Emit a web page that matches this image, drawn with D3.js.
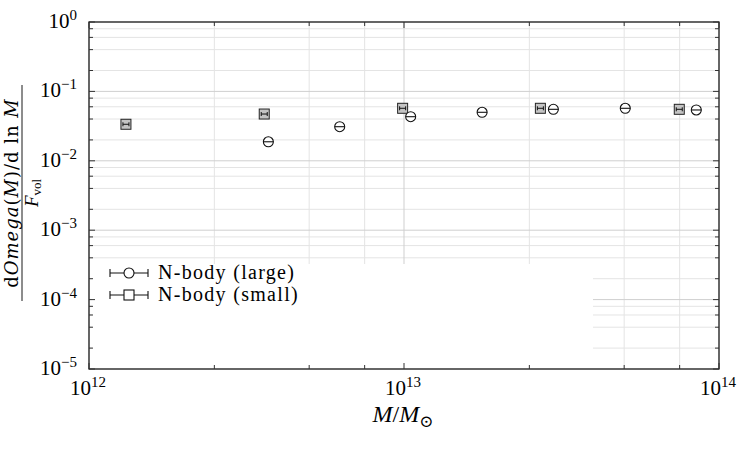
<!DOCTYPE html>
<html>
<head>
<meta charset="utf-8">
<script src="https://cdn.jsdelivr.net/npm/d3@7"></script>
<style>
  body { margin: 0; background: #fff; }
  svg text { font-family: "Liberation Serif", "DejaVu Serif", serif; fill: #000; }
</style>
</head>
<body>
<script>
/* DATA */
// N-body (large) : mass, value
var largeMass = [3.71e12, 6.25e12, 1.05e13, 1.77e13, 2.98e13, 5.04e13, 8.47e13];
var largeVal  = [0.0188, 0.031, 0.0432, 0.050, 0.0552, 0.0571, 0.054];
// N-body (small)
var smallMass = [1.31e12, 3.6e12, 9.9e12, 2.71e13, 7.48e13];
var smallVal  = [0.0336, 0.0472, 0.0571, 0.0571, 0.0552];

var seriesNames = ["N-body (large)", "N-body (small)"];

var xDecades = [12, 13, 14];
var yDecades = [0, -1, -2, -3, -4, -5];
var xMinorMult = [2.5, 5, 7.5];
var yMinorMult = [2, 4, 6, 8];

/* CONSTANTS */
var W = 750, H = 450;
var margin = {top: 22, right: 31, bottom: 81, left: 89};
var width = W - margin.left - margin.right,
    height = H - margin.top - margin.bottom;

var x = d3.scaleLog().domain([1e12, 1e14]).range([0, width]);
var y = d3.scaleLog().domain([1e-5, 1]).range([height, 0]);

var svg = d3.select("body").append("svg")
    .attr("width", W)
    .attr("height", H);

var g = svg.append("g")
    .attr("transform", "translate(" + margin.left + "," + margin.top + ")");

// minor tick values
var xMinor = [], yMinor = [];
xDecades.slice(0, -1).forEach(function(e) {
  xMinorMult.forEach(function(m) { xMinor.push(m * Math.pow(10, e)); });
});
yDecades.slice(1).forEach(function(e) {
  yMinorMult.forEach(function(m) { yMinor.push(m * Math.pow(10, e)); });
});
var xMajor = xDecades.map(function(e) { return Math.pow(10, e); });
var yMajor = yDecades.map(function(e) { return Math.pow(10, e); });

/* GRID */
g.selectAll(".hminor").data(yMinor).enter().append("line")
  .attr("x1", 0).attr("x2", width)
  .attr("y1", function(d) { return y(d); }).attr("y2", function(d) { return y(d); })
  .attr("stroke", "#e4e4e4").attr("stroke-width", 1);
g.selectAll(".vminor").data(xMinor).enter().append("line")
  .attr("y1", 0).attr("y2", height)
  .attr("x1", function(d) { return x(d); }).attr("x2", function(d) { return x(d); })
  .attr("stroke", "#e4e4e4").attr("stroke-width", 1);
g.selectAll(".hmajor").data(yMajor.slice(1, -1)).enter().append("line")
  .attr("x1", 0).attr("x2", width)
  .attr("y1", function(d) { return y(d); }).attr("y2", function(d) { return y(d); })
  .attr("stroke", "#cfcfcf").attr("stroke-width", 1);
g.selectAll(".vmajor").data(xMajor.slice(1, -1)).enter().append("line")
  .attr("y1", 0).attr("y2", height)
  .attr("x1", function(d) { return x(d); }).attr("x2", function(d) { return x(d); })
  .attr("stroke", "#cfcfcf").attr("stroke-width", 1);

/* DATA MARKS */
var large = largeMass.map(function(m, i) { return {m: m, v: largeVal[i]}; });
var small = smallMass.map(function(m, i) { return {m: m, v: smallVal[i]}; });

function drawSquare(sel, cx, cy) {
  sel.append("rect").attr("x", cx - 5).attr("y", cy - 5)
    .attr("width", 10).attr("height", 10)
    .attr("fill", "#c4c4c4").attr("stroke", "#222").attr("stroke-width", 1);
  sel.append("path")
    .attr("d", "M" + (cx - 3) + "," + (cy - 2) + "V" + (cy + 2) +
               "M" + (cx - 3) + "," + cy + "H" + (cx + 3) +
               "M" + (cx + 3) + "," + (cy - 2) + "V" + (cy + 2))
    .attr("stroke", "#111").attr("stroke-width", 1).attr("fill", "none");
}
function drawCircle(sel, cx, cy) {
  sel.append("circle").attr("cx", cx).attr("cy", cy).attr("r", 5)
    .attr("fill", "#fff").attr("stroke", "#111").attr("stroke-width", 1.1);
  sel.append("line").attr("x1", cx - 5).attr("x2", cx + 5)
    .attr("y1", cy).attr("y2", cy)
    .attr("stroke", "#111").attr("stroke-width", 1.1);
}

var pts = g.append("g");
small.forEach(function(d) { drawSquare(pts, x(d.m), y(d.v)); });
large.forEach(function(d) { drawCircle(pts, x(d.m), y(d.v)); });

/* LEGEND (white box covers grid) */
g.append("rect")
  .attr("x", 3).attr("y", 242)
  .attr("width", 501).attr("height", height - 242)
  .attr("fill", "#fff");

var legRows = [273, 295];
seriesNames.forEach(function(name, i) {
  var ly = legRows[i] - margin.top;
  var lg = g.append("g");
  lg.append("path")
    .attr("d", "M21," + (ly - 4) + "V" + (ly + 4) + "M21," + ly + "H59M59," + (ly - 4) + "V" + (ly + 4))
    .attr("stroke", "#111").attr("stroke-width", 1.1).attr("fill", "none");
  if (i === 0) {
    lg.append("circle").attr("cx", 40).attr("cy", ly).attr("r", 5)
      .attr("fill", "#fff").attr("stroke", "#111").attr("stroke-width", 1.1);
  } else {
    lg.append("rect").attr("x", 35).attr("y", ly - 5).attr("width", 10).attr("height", 10)
      .attr("fill", "#fff").attr("stroke", "#111").attr("stroke-width", 1.1);
  }
  lg.append("text")
    .attr("x", 69).attr("y", ly + 6)
    .style("font-size", "20px")
    .style("letter-spacing", "1.3px")
    .text(name);
});

/* AXES FRAME AND TICKS */
g.append("rect").attr("x", 0).attr("y", 0).attr("width", width).attr("height", height)
  .attr("fill", "none").attr("stroke", "#000").attr("stroke-width", 1.2);

var ticks = g.append("g").attr("stroke", "#333").attr("stroke-width", 1);
xMinor.forEach(function(d) {
  ticks.append("line").attr("x1", x(d)).attr("x2", x(d)).attr("y1", height).attr("y2", height - 4);
  ticks.append("line").attr("x1", x(d)).attr("x2", x(d)).attr("y1", 0).attr("y2", 4);
});
xMajor.forEach(function(d) {
  ticks.append("line").attr("x1", x(d)).attr("x2", x(d)).attr("y1", height).attr("y2", height - 6);
  ticks.append("line").attr("x1", x(d)).attr("x2", x(d)).attr("y1", 0).attr("y2", 6);
});
yMinor.forEach(function(d) {
  ticks.append("line").attr("y1", y(d)).attr("y2", y(d)).attr("x1", 0).attr("x2", 4);
  ticks.append("line").attr("y1", y(d)).attr("y2", y(d)).attr("x1", width).attr("x2", width - 4);
});
yMajor.forEach(function(d) {
  ticks.append("line").attr("y1", y(d)).attr("y2", y(d)).attr("x1", 0).attr("x2", 6);
  ticks.append("line").attr("y1", y(d)).attr("y2", y(d)).attr("x1", width).attr("x2", width - 6);
});

/* TICK LABELS */
function powLabel(sel, e) {
  sel.append("tspan").text("10");
  sel.append("tspan").attr("dy", -8).style("font-size", "15px")
    .text(e < 0 ? "\u2212" + (-e) : String(e));
}
xDecades.forEach(function(e) {
  var t = g.append("text")
    .attr("x", x(Math.pow(10, e)) - 1).attr("y", height + 26)
    .attr("text-anchor", "middle")
    .style("font-size", "21px");
  powLabel(t, e);
});
yDecades.forEach(function(e) {
  var t = g.append("text")
    .attr("x", -12).attr("y", y(Math.pow(10, e)) + 6)
    .attr("text-anchor", "end")
    .style("font-size", "21px");
  powLabel(t, e);
});

/* AXIS LABELS */
var xl = g.append("text")
  .attr("x", width / 2 - 1).attr("y", height + 53)
  .attr("text-anchor", "middle")
  .style("font-size", "24px");
xl.append("tspan").style("font-style", "italic").text("M");
xl.append("tspan").text("/");
xl.append("tspan").style("font-style", "italic").text("M");
xl.append("tspan").attr("dy", 5).style("font-size", "17px").text("\u2299");

var yl = svg.append("g").attr("transform", "translate(0,193) rotate(-90)");
var num = yl.append("text").attr("x", 0).attr("y", 18)
  .attr("text-anchor", "middle")
  .style("font-family", "'DejaVu Serif', serif")
  .style("font-size", "18px")
  .style("letter-spacing", "1px");
num.append("tspan").text("d");
num.append("tspan").style("font-style", "italic").text("Omega");
num.append("tspan").text("(");
num.append("tspan").style("font-style", "italic").text("M");
num.append("tspan").text(")/d ln ");
num.append("tspan").style("font-style", "italic").text("M");
yl.append("line").attr("x1", -108).attr("x2", 108).attr("y1", 22).attr("y2", 22)
  .attr("stroke", "#000").attr("stroke-width", 0.9);
var den = yl.append("text").attr("x", 0).attr("y", 38)
  .attr("text-anchor", "middle").style("font-size", "19px");
den.append("tspan").style("font-style", "italic").text("F");
den.append("tspan").attr("dy", 3).style("font-size", "13px").text("vol");
</script>
</body>
</html>
